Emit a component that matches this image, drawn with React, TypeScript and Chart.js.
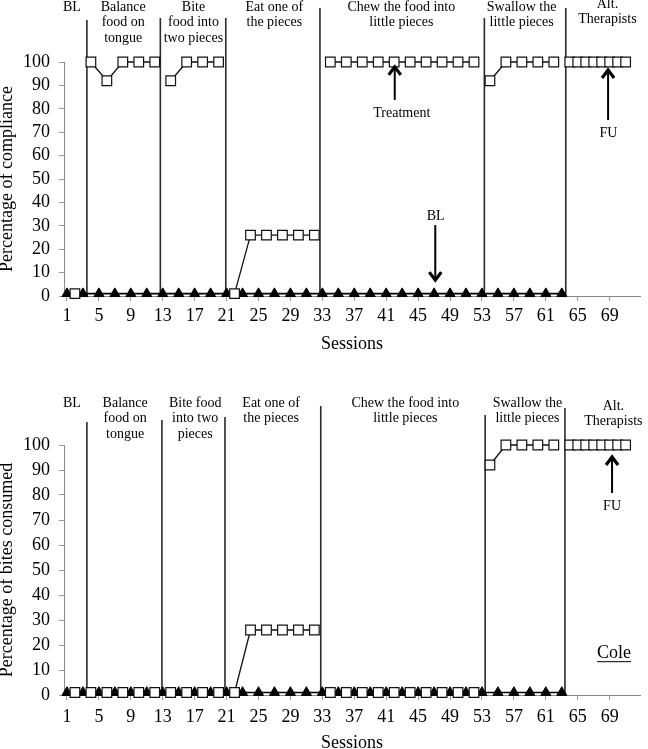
import React, { useEffect, useRef } from 'react';
import { Chart, registerables } from 'chart.js';

Chart.register(...registerables);

const SERIF = "'Liberation Serif', 'Times New Roman', Times, serif";

const SESSION_TICKS = [1, 5, 9, 13, 17, 21, 25, 29, 33, 37, 41, 45, 49, 53, 57, 61, 65, 69];
const SESSION_MIN = 0.63;
const SESSION_MAX = 72.8;

// Baseline probes (filled triangles)
const BASELINE_SESSIONS = [1, 3, 5, 7, 9, 11, 13, 15, 17, 19, 21, 23, 25, 27, 29, 31, 33, 35, 37, 39, 41, 43, 45, 47, 49, 51, 53, 55, 57, 59, 61, 63];
const BASELINE_COMPLIANCE = [1, 1, 1, 1, 1, 1, 1, 1, 1, 1, 1, 1, 1, 1, 1, 1, 1, 1, 1, 1, 1, 1, 1, 1, 1, 1, 1, 1, 1, 1, 1, 1];
const BASELINE_BITES = [1, 1, 1, 1, 1, 1, 1, 1, 1, 1, 1, 1, 1, 1, 1, 1, 1, 1, 1, 1, 1, 1, 1, 1, 1, 1, 1, 1, 1, 1, 1, 1];

// Treatment sessions (open squares); null values break the line between phases
const TREATMENT_SESSIONS = [2, 3, 4, 6, 8, 10, 12, 13, 14, 16, 18, 20, 21, 22, 24, 26, 28, 30, 32, 33, 34, 36, 38, 40, 42, 44, 46, 48, 50, 52, 53, 54, 56, 58, 60, 62, 63, 64, 65, 66, 67, 68, 69, 70, 71];
const COMPLIANCE = [1, null, 100, 92, 100, 100, 100, null, 92, 100, 100, 100, null, 1, 26, 26, 26, 26, 26, null, 100, 100, 100, 100, 100, 100, 100, 100, 100, 100, null, 92, 100, 100, 100, 100, null, 100, 100, 100, 100, 100, 100, 100, 100];
const BITES = [1, null, 1, 1, 1, 1, 1, null, 1, 1, 1, 1, null, 1, 26, 26, 26, 26, 26, null, 1, 1, 1, 1, 1, 1, 1, 1, 1, 1, null, 92, 100, 100, 100, 100, null, 100, 100, 100, 100, 100, 100, 100, 100];

const PHASE_LABELS_TOP = [
  ['BL'],
  ['Balance', 'food on', 'tongue'],
  ['Bite', 'food into', 'two pieces'],
  ['Eat one of', 'the pieces'],
  ['Chew the food into', 'little pieces'],
  ['Swallow the', 'little pieces'],
  ['Alt.', 'Therapists'],
];
const PHASE_LABELS_BOTTOM = [
  ['BL'],
  ['Balance', 'food on', 'tongue'],
  ['Bite food', 'into two', 'pieces'],
  ['Eat one of', 'the pieces'],
  ['Chew the food into', 'little pieces'],
  ['Swallow the', 'little pieces'],
  ['Alt.', 'Therapists'],
];

const PHASE_CHANGES_TOP = [3.5, 12.7, 20.9, 32.7, 53.3, 63.5];
const PHASE_CHANGES_BOTTOM = [3.5, 12.9, 20.8, 32.8, 53.4, 63.4];

type Arrow = { session: number; tail: number; tip: number; text: string; textSession: number; textValue: number };

type Spec = {
  height: number;
  chartTop: number;
  axisHeight: number;
  titlePad: number;
  tickPad: number;
  yTitle: string;
  treatment: (number | null)[];
  baseline: number[];
  phaseChanges: number[];
  phaseLineTops: number[];
  labels: string[][];
  labelCenters: number[];
  labelTops: number[];
  arrows: Arrow[];
  note: { text: string; session: number; value: number } | null;
};

const TOP_SPEC: Spec = {
  height: 370,
  chartTop: 62,
  axisHeight: 74,
  titlePad: 15.2,
  tickPad: 4,
  yTitle: 'Percentage of compliance',
  treatment: COMPLIANCE,
  baseline: BASELINE_COMPLIANCE,
  phaseChanges: PHASE_CHANGES_TOP,
  phaseLineTops: [20, 18, 18, 8, 18, 8],
  labels: PHASE_LABELS_TOP,
  labelCenters: [1.62, 8.05, 16.85, 26.98, 42.9, 57.97, 68.72],
  labelTops: [7, 7, 7, 7, 7, 7, 4],
  arrows: [
    { session: 42.07, tail: 83.8, tip: 97.9, text: 'Treatment', textSession: 42.95, textValue: 78.2 },
    { session: 68.8, tail: 75.2, tip: 96.6, text: 'FU', textSession: 68.85, textValue: 69.7 },
    { session: 47.15, tail: 30.3, tip: 6.8, text: 'BL', textSession: 47.2, textValue: 33.9 },
  ],
  note: null,
};

const BOTTOM_SPEC: Spec = {
  height: 400,
  chartTop: 75,
  axisHeight: 75,
  titlePad: 16.2,
  tickPad: 6,
  yTitle: 'Percentage of bites consumed',
  treatment: BITES,
  baseline: BASELINE_BITES,
  phaseChanges: PHASE_CHANGES_BOTTOM,
  phaseLineTops: [52, 50, 47, 36, 45, 38],
  labels: PHASE_LABELS_BOTTOM,
  labelCenters: [1.62, 8.29, 17.07, 26.58, 43.39, 58.7, 69.46],
  labelTops: [33, 33, 33, 33, 33, 33, 36],
  arrows: [
    { session: 69.3, tail: 80.8, tip: 95.2, text: 'FU', textSession: 69.3, textValue: 75.6 },
  ],
  note: { text: 'Cole', session: 69.55, value: 16.8 },
};

function drawArrow(ctx: CanvasRenderingContext2D, x: number, yTail: number, yTip: number) {
  const dir = yTip < yTail ? -1 : 1;
  ctx.save();
  ctx.strokeStyle = '#000';
  ctx.lineWidth = 2;
  ctx.beginPath();
  ctx.moveTo(x, yTail);
  ctx.lineTo(x, yTip - dir * 2);
  ctx.stroke();
  ctx.lineWidth = 3.2;
  ctx.lineJoin = 'miter';
  ctx.lineCap = 'butt';
  ctx.beginPath();
  ctx.moveTo(x - 6, yTip - dir * 8);
  ctx.lineTo(x, yTip);
  ctx.lineTo(x + 6, yTip - dir * 8);
  ctx.stroke();
  ctx.restore();
}

function makePlugin(spec: Spec) {
  return {
    id: 'phaseAnnotations',
    beforeDatasetsDraw(chart: any) {
      const { ctx, scales, chartArea } = chart;
      const x = scales.x;
      ctx.save();
      ctx.strokeStyle = '#2a2a2a';
      ctx.lineWidth = 1.6;
      spec.phaseChanges.forEach((s, i) => {
        const px = x.getPixelForValue(s);
        ctx.beginPath();
        ctx.moveTo(px, spec.phaseLineTops[i]);
        ctx.lineTo(px, chartArea.bottom);
        ctx.stroke();
      });
      ctx.restore();
    },
    afterDraw(chart: any) {
      const { ctx, scales } = chart;
      const x = scales.x;
      const y = scales.y;
      ctx.save();
      ctx.fillStyle = '#000';
      ctx.textAlign = 'center';
      ctx.textBaseline = 'middle';
      ctx.font = `14px ${SERIF}`;
      spec.labels.forEach((lines, i) => {
        const cx = x.getPixelForValue(spec.labelCenters[i]);
        lines.forEach((line, j) => {
          ctx.fillText(line, cx, spec.labelTops[i] + j * 15.5);
        });
      });
      spec.arrows.forEach((a) => {
        const ax = x.getPixelForValue(a.session);
        drawArrow(ctx, ax, y.getPixelForValue(a.tail), y.getPixelForValue(a.tip));
        ctx.font = `14px ${SERIF}`;
        ctx.fillText(a.text, x.getPixelForValue(a.textSession), y.getPixelForValue(a.textValue));
      });
      if (spec.note) {
        const nx = x.getPixelForValue(spec.note.session);
        const ny = y.getPixelForValue(spec.note.value);
        ctx.font = `18px ${SERIF}`;
        ctx.fillText(spec.note.text, nx, ny);
        const w = ctx.measureText(spec.note.text).width;
        ctx.strokeStyle = '#000';
        ctx.lineWidth = 1;
        ctx.beginPath();
        ctx.moveTo(nx - w / 2, ny + 8.7);
        ctx.lineTo(nx + w / 2, ny + 8.7);
        ctx.stroke();
      }
      ctx.restore();
    },
  };
}

function makeConfig(spec: Spec): any {
  return {
    type: 'line',
    data: {
      datasets: [
        {
          label: 'Treatment',
          data: TREATMENT_SESSIONS.map((s, i) => ({ x: s, y: spec.treatment[i] })),
          borderColor: '#111',
          borderWidth: 1.3,
          pointStyle: 'rect',
          pointRadius: 6.8,
          pointBackgroundColor: '#fff',
          pointBorderColor: '#111',
          pointBorderWidth: 1.2,
          spanGaps: false,
          clip: false,
          order: 0,
        },
        {
          label: 'Baseline',
          data: BASELINE_SESSIONS.map((s, i) => ({ x: s, y: spec.baseline[i] })),
          borderColor: '#000',
          borderWidth: 1.6,
          pointStyle: 'triangle',
          pointRadius: 5.8,
          pointBackgroundColor: '#000',
          pointBorderColor: '#000',
          pointBorderWidth: 1,
          clip: false,
          order: 1,
        },
      ],
    },
    options: {
      responsive: false,
      animation: false,
      events: [],
      layout: { padding: { top: spec.chartTop, left: 0, right: 0, bottom: 0 } },
      plugins: { legend: { display: false }, tooltip: { enabled: false } },
      scales: {
        x: {
          type: 'linear',
          min: SESSION_MIN,
          max: SESSION_MAX,
          afterBuildTicks: (scale: any) => {
            scale.ticks = SESSION_TICKS.map((v) => ({ value: v }));
          },
          afterFit: (scale: any) => {
            scale.height = spec.axisHeight;
          },
          border: { display: true, color: '#8a8a8a', width: 1 },
          grid: { drawOnChartArea: false, drawTicks: true, tickLength: 5, color: '#9a9a9a' },
          ticks: {
            autoSkip: false,
            maxRotation: 0,
            minRotation: 0,
            padding: spec.tickPad,
            color: '#000',
            font: { family: SERIF, size: 18 },
          },
          title: {
            display: true,
            text: 'Sessions',
            color: '#000',
            font: { family: SERIF, size: 18 },
            padding: { top: 0, bottom: spec.titlePad },
          },
        },
        y: {
          type: 'linear',
          min: 0,
          max: 100,
          afterFit: (scale: any) => {
            scale.width = 64;
          },
          border: { display: true, color: '#8a8a8a', width: 1 },
          grid: { drawOnChartArea: false, drawTicks: true, tickLength: 5, color: '#9a9a9a' },
          ticks: {
            stepSize: 10,
            autoSkip: false,
            padding: 9,
            color: '#000',
            font: { family: SERIF, size: 18 },
          },
          title: {
            display: true,
            text: spec.yTitle,
            color: '#000',
            font: { family: SERIF, size: 18 },
            padding: { top: -4, bottom: 0 },
          },
        },
      },
    },
    plugins: [makePlugin(spec)],
  };
}

function PhaseChart({ spec, top }: { spec: Spec; top: number }) {
  const ref = useRef<HTMLCanvasElement>(null);
  useEffect(() => {
    if (!ref.current) return;
    const chart = new Chart(ref.current, makeConfig(spec));
    return () => chart.destroy();
  }, [spec]);
  return (
    <canvas
      ref={ref}
      width={648}
      height={spec.height}
      style={{ position: 'absolute', left: 0, top, width: 648, height: spec.height, display: 'block' }}
    />
  );
}

export default function App() {
  return (
    <div
      style={{
        position: 'absolute',
        left: 0,
        top: 0,
        width: 648,
        height: 749,
        overflow: 'hidden',
        background: '#fff',
      }}
    >
      <PhaseChart spec={TOP_SPEC} top={0} />
      <PhaseChart spec={BOTTOM_SPEC} top={370} />
    </div>
  );
}
